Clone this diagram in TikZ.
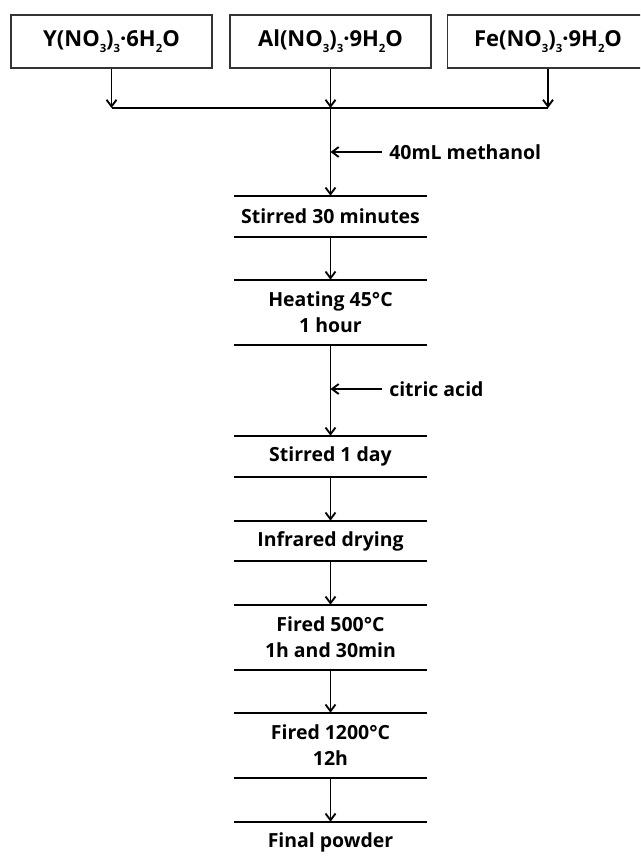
\documentclass[tikz,border=0pt]{standalone}
\usepackage{fontspec}
\setmainfont{Open Sans}
\usetikzlibrary{arrows.meta}

\tikzset{
  txt/.style={font=\bfseries\fontsize{14.6}{19.5}\selectfont, inner sep=0pt, align=center},
  srcbox/.style={draw=black!80, line width=0.8pt, minimum width=150.75pt,
    minimum height=39.75pt, inner sep=0pt,
    font=\bfseries\fontsize{16.5}{20}\selectfont},
  stepbox/.style={txt, minimum width=144.75pt},
  bar/.style={line width=1.5pt},
  flow/.style={line width=1.4pt, -{Straight Barb[length=5pt,width=7.5pt,line width=1.4pt]}},
  addlabel/.style={txt, anchor=west},
}

% small, lowered index for the chemical formulas
\newcommand{\sub}[1]{\raisebox{-0.5ex}{\fontsize{8.5}{9}\selectfont #1}}

\begin{document}
\begin{tikzpicture}[x=0.75pt, y=-0.75pt]
  \clip (0,0) rectangle (640,860);
  \fill[white] (0,0) rectangle (640,860);

  % nitrate precursors
  \node[srcbox] (y)  at (111.5,41.5) {Y(NO\sub{3})\sub{3}·6H\sub{2}O};
  \node[srcbox] (al) at (330.5,41.5) {Al(NO\sub{3})\sub{3}·9H\sub{2}O};
  \node[srcbox] (fe) at (548,41.5)   {Fe(NO\sub{3})\sub{3}·9H\sub{2}O};

  % process steps
  \node[stepbox, minimum height=30.75pt] (s1) at (330.5,216.5) {Stirred 30 minutes};
  \node[stepbox, minimum height=48.75pt] (s2) at (330.5,312.5) {Heating 45°C\\1 hour};
  \node[stepbox, minimum height=30.75pt] (s3) at (330.5,456.5) {Stirred 1 day};
  \node[stepbox, minimum height=30pt]    (s4) at (330.5,541)   {Infrared drying};
  \node[stepbox, minimum height=48.75pt] (s5) at (330.5,637.5) {Fired 500°C\\1h and 30min};
  \node[stepbox, minimum height=48.75pt] (s6) at (330.5,745.5) {Fired 1200°C\\12h};
  \node[stepbox, minimum height=30.75pt] (s7) at (330.5,842.5) {Final powder};

  % rules above and below each step
  \foreach \s in {s1,s2,s3,s4,s5,s6} {
    \draw[bar] (\s.north west) -- (\s.north east);
    \draw[bar] (\s.south west) -- (\s.south east);
  }
  \draw[bar] (s7.north west) -- (s7.north east);

  % mixing of the three nitrates
  \coordinate (jy)  at (y.south |- 0,108);
  \coordinate (jal) at (al.south |- 0,108);
  \coordinate (jfe) at (fe.south |- 0,108);
  \draw[flow] (y.south) -- (jy);
  \draw[flow] (fe.south) -- (jfe);
  \draw[flow] (al.south) -- (jal);
  \draw[bar] (jy) -- (jfe);
  \draw[flow] (jal) -- (s1.north);

  % additions
  \node[addlabel] (meth) at (389,152) {40mL methanol};
  \node[addlabel] (cit)  at (389,389) {citric acid};
  \coordinate (mjoin) at (s1.north |- meth.west);
  \coordinate (cjoin) at (s3.north |- cit.west);
  \draw[flow, line width=1.2pt] ([xshift=-5pt]meth.west) -- (mjoin);
  \draw[flow, line width=1.2pt] ([xshift=-5pt]cit.west) -- (cjoin);

  % steps in sequence
  \draw[flow] (s1.south) -- (s2.north);
  \draw[flow] (s2.south) -- (s3.north);
  \draw[flow] (s3.south) -- (s4.north);
  \draw[flow] (s4.south) -- (s5.north);
  \draw[flow] (s5.south) -- (s6.north);
  \draw[flow] (s6.south) -- (s7.north);
\end{tikzpicture}
\end{document}
